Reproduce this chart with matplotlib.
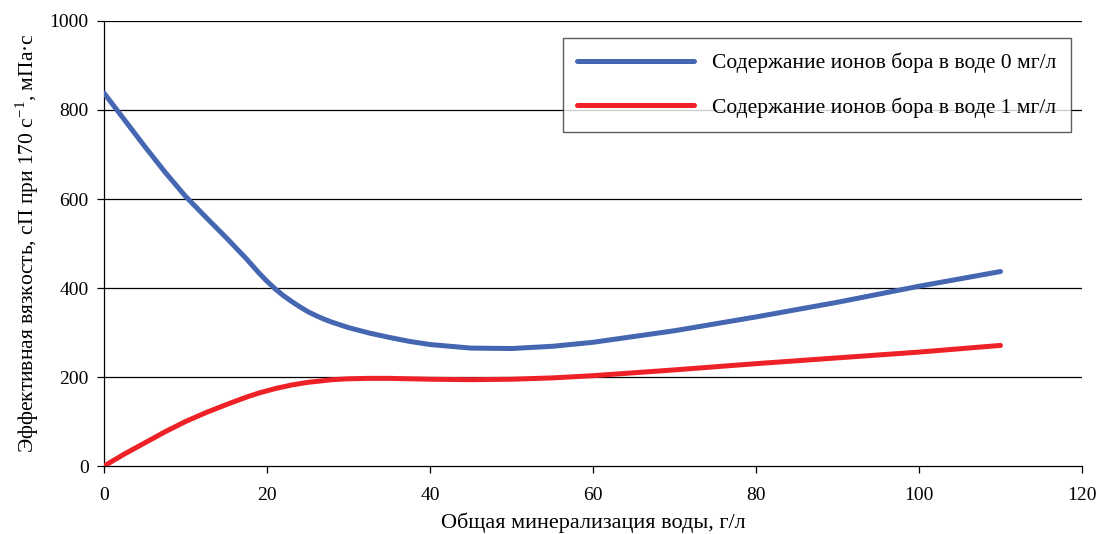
# viscosity vs total water mineralization, two boron contents
import matplotlib.pyplot as plt
import numpy as np

plt.rcParams['font.family'] = ['Liberation Serif', 'DejaVu Serif']
plt.rcParams['mathtext.fontset'] = 'custom'
plt.rcParams['mathtext.rm'] = 'Liberation Serif'

# mineralization, g/l
mineral = [0, 2.5, 5, 7.5, 10, 12.5, 15, 17.5, 19, 20, 21, 22, 23, 24, 25, 26, 27, 28,
           30, 32.5, 35, 37.5, 40, 45, 50, 55, 60, 70, 80, 90, 100, 110]
# boron 0 mg/l
visc_b0 = [838, 778, 718, 660, 606, 559, 513, 465, 434, 415, 398, 383, 370, 358, 347,
           338, 330, 323, 311, 299, 289, 280, 273, 265, 264, 269, 278, 304, 335, 368,
           404, 437]
# boron 1 mg/l
visc_b1 = [0, 27, 52, 77, 100, 120, 138, 155, 164, 169, 174, 178, 182, 185, 188, 190,
           192, 194, 196, 197, 197, 196, 195, 194, 195, 198, 203, 216, 230, 243, 256, 271]

label_b0 = 'Содержание ионов бора в воде 0 мг/л'
label_b1 = 'Содержание ионов бора в воде 1 мг/л'

fig = plt.figure(figsize=(11.08, 5.34), dpi=100)
ax = fig.add_axes([0.0939, 0.1273, 0.8826, 0.8334])

ax.plot(mineral, visc_b0, color='#4566b1', lw=3.6, solid_capstyle='round',
        solid_joinstyle='round', label=label_b0, zorder=3)
ax.plot(mineral, visc_b1, color='#ee2226', lw=3.6, solid_capstyle='round',
        solid_joinstyle='round', label=label_b1, zorder=3)

ax.set_xlim(0, 120)
ax.set_ylim(0, 1000)
ax.set_xticks(np.arange(0, 121, 20))
ax.set_yticks(np.arange(0, 1001, 200))
for y in range(200, 1001, 200):
    ax.axhline(y, color='black', lw=0.9, zorder=1)

for s in ['top', 'right']:
    ax.spines[s].set_visible(False)
for s in ['left', 'bottom']:
    ax.spines[s].set_linewidth(0.9)
ax.tick_params(axis='both', direction='out', length=5, width=0.9, labelsize=14,
               pad=6)
ax.tick_params(axis='x', pad=10)

ax.set_xlabel('Общая минерализация воды, г/л', fontsize=16, labelpad=6)
ax.set_ylabel('Эффективная вязкость, сП при 170 с$^{-1}$, мПа·с', fontsize=15.5,
              labelpad=6)

leg = ax.legend(loc='upper right', bbox_to_anchor=(0.9888, 0.962), fontsize=15.5,
                frameon=True, fancybox=False, handlelength=5.4, handletextpad=0.85,
                borderpad=0.68, labelspacing=1.12, borderaxespad=0)
leg.get_frame().set_edgecolor('#333333')
leg.get_frame().set_linewidth(1.0)

fig.savefig('out.png', dpi=100)
